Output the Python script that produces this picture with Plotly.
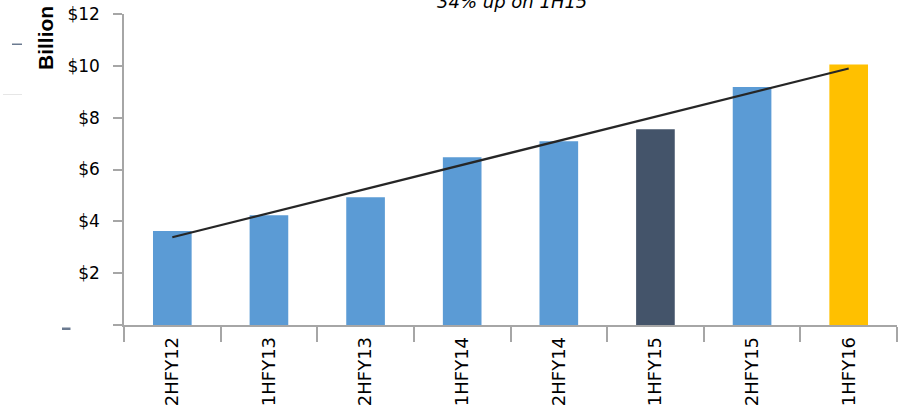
import numpy as np
import plotly.graph_objects as go

# Half-year revenue, $ billion
periods = ["2HFY12", "1HFY13", "2HFY13", "1HFY14", "2HFY14", "1HFY15", "2HFY15", "1HFY16"]
revenue = [3.63, 4.23, 4.93, 6.47, 7.09, 7.55, 9.18, 10.05]
bar_colors = ["#5B9BD5", "#5B9BD5", "#5B9BD5", "#5B9BD5", "#5B9BD5", "#44546A", "#5B9BD5", "#FFC000"]

y_ticks = [0, 2, 4, 6, 8, 10, 12]
y_ticklabels = ["", "$2", "$4", "$6", "$8", "$10", "$12"]

# Linear trend over the half-year sequence
idx = np.arange(len(revenue))
slope, intercept = np.polyfit(idx, revenue, 1)
trend = slope * idx + intercept

W, H = 899, 407
ml, mr, mt, mb = 124, 2, 14, 82
pw, ph = W - ml - mr, H - mt - mb

fig = go.Figure()
fig.add_trace(go.Bar(
    x=periods, y=revenue, marker=dict(color=bar_colors, line=dict(width=0)),
    hoverinfo="x+y", showlegend=False,
))
fig.add_trace(go.Scatter(
    x=periods, y=trend, mode="lines",
    line=dict(color="#262626", width=2.2), showlegend=False,
))

axis_grey = "#a6a6a6"
fig.update_layout(
    width=W, height=H,
    margin=dict(l=ml, r=mr, t=mt, b=mb, pad=0),
    paper_bgcolor="white", plot_bgcolor="white",
    bargap=0.6,
    font=dict(family="DejaVu Sans", size=17, color="#000000"),
    xaxis=dict(
        type="category", showgrid=False, zeroline=False,
        showline=True, linecolor=axis_grey, linewidth=1.5,
        ticks="outside", tickson="boundaries", ticklen=15,
        tickcolor=axis_grey, tickwidth=1.5,
        tickangle=-90, tickfont=dict(family="DejaVu Sans", size=18, color="#000000"),
        ticklabelstandoff=3,
    ),
    yaxis=dict(
        range=[0, 12], showgrid=False, zeroline=False,
        showline=True, linecolor=axis_grey, linewidth=1.5,
        tickvals=y_ticks, ticktext=y_ticklabels,
        ticks="outside", ticklen=9, tickcolor=axis_grey, tickwidth=1.5,
        tickfont=dict(family="DejaVu Sans", size=17, color="#000000"),
        ticklabelstandoff=10,
    ),
)

def px_x(p):
    return (p - ml) / pw

def px_y(p):
    return (H - mb - p) / ph

fig.add_annotation(
    text="<i>34% up on 1H15</i>", xref="paper", yref="paper",
    x=px_x(512), y=px_y(2), xanchor="center", yanchor="middle",
    showarrow=False, font=dict(family="DejaVu Sans", size=18, color="#000000"),
)

fig.add_annotation(
    text="<b>Billion</b>", xref="paper", yref="paper",
    x=px_x(45), y=px_y(38), xanchor="center", yanchor="middle",
    textangle=-90, showarrow=False,
    font=dict(family="Liberation Sans", size=21, color="#000000"),
)

# small slate marks at the left edge
fig.add_shape(type="rect", xref="paper", yref="paper",
              x0=px_x(62), x1=px_x(70.5), y0=px_y(330), y1=px_y(327.5),
              fillcolor="#6b7a90", line=dict(width=0))
fig.add_shape(type="rect", xref="paper", yref="paper",
              x0=px_x(12), x1=px_x(22), y0=px_y(45), y1=px_y(43.5),
              fillcolor="#6b7a90", line=dict(width=0))
fig.add_shape(type="rect", xref="paper", yref="paper",
              x0=px_x(3), x1=px_x(22), y0=px_y(95), y1=px_y(94),
              fillcolor="#e6e6e6", line=dict(width=0))

fig.write_html("out.html")
